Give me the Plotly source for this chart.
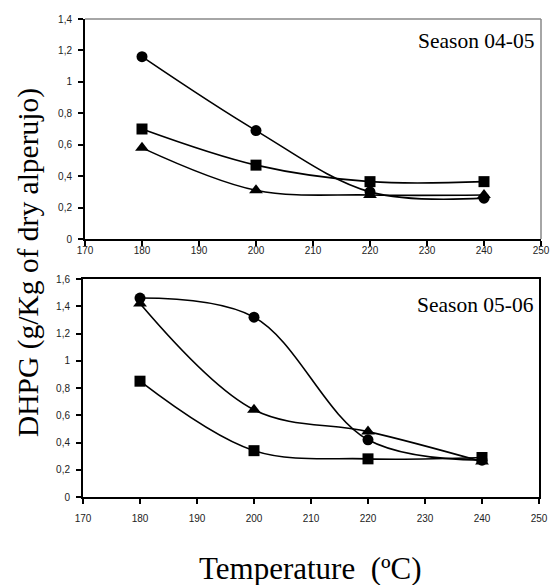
import plotly.graph_objects as go

temps = [180, 200, 220, 240]

# Season 04-05
s1_circle = [1.16, 0.69, 0.30, 0.26]
s1_square = [0.70, 0.47, 0.365, 0.365]
s1_triangle = [0.58, 0.31, 0.28, 0.28]

# Season 05-06
s2_circle = [1.46, 1.32, 0.42, 0.27]
s2_square = [0.85, 0.34, 0.28, 0.29]
s2_triangle = [1.42, 0.64, 0.48, 0.26]

x_ticks = [170, 180, 190, 200, 210, 220, 230, 240, 250]
y1_ticks = [0, 0.2, 0.4, 0.6, 0.8, 1.0, 1.2, 1.4]
y2_ticks = [0, 0.2, 0.4, 0.6, 0.8, 1.0, 1.2, 1.4, 1.6]

W, H = 550, 585

def px_x(p):
    return p / W

def px_y(p):
    return 1 - p / H

fig = go.Figure()

def add_series(x, y, symbol, xa, ya, size):
    fig.add_trace(go.Scatter(
        x=x, y=y, mode="lines+markers", xaxis=xa, yaxis=ya,
        line=dict(color="black", width=1.6, shape="spline", smoothing=1.0),
        marker=dict(symbol=symbol, size=size, color="black"),
        showlegend=False, hoverinfo="skip", cliponaxis=False))

add_series(temps, s1_circle, "circle", "x", "y", 11)
add_series(temps, s1_square, "square", "x", "y", 11)
add_series(temps, s1_triangle, "triangle-up", "x", "y", 12)

add_series(temps, s2_circle, "circle", "x2", "y2", 11)
add_series(temps, s2_square, "square", "x2", "y2", 11)
add_series(temps, s2_triangle, "triangle-up", "x2", "y2", 12)

tickfont = dict(family="Liberation Sans, Arial, sans-serif", size=10, color="#222222")

common_x = dict(range=[170, 250], tickvals=x_ticks, ticks="outside", ticklen=5,
                tickwidth=1.5, tickcolor="black", showline=True, linecolor="black",
                linewidth=2, showgrid=False, zeroline=False, tickfont=tickfont,
                fixedrange=True, automargin=False)
common_y = dict(ticks="outside", ticklen=5, tickwidth=1.5, tickcolor="black",
                showline=True, linecolor="black", linewidth=2, showgrid=False,
                zeroline=False, tickfont=tickfont, fixedrange=True,
                tickformat=".1~f", automargin=False)

fig.update_layout(
    width=W, height=H,
    margin=dict(l=0, r=0, t=0, b=0, autoexpand=False),
    paper_bgcolor="white", plot_bgcolor="white",
    separators=",.",
    xaxis=dict(common_x, domain=[px_x(85), px_x(541)], anchor="y",
               ticklabelstandoff=-4),
    yaxis=dict(common_y, domain=[px_y(239), px_y(19)], range=[0, 1.4],
               tickvals=y1_ticks, anchor="x", ticklabelstandoff=4),
    xaxis2=dict(common_x, domain=[px_x(83), px_x(539)], anchor="y2",
                ticklabelstandoff=6, mirror=True),
    yaxis2=dict(common_y, domain=[px_y(497), px_y(279)], range=[0, 1.6],
                tickvals=y2_ticks, anchor="x2", ticklabelstandoff=4, mirror=True),
)

# gray top/right border of the upper plot area
fig.add_shape(type="line", xref="paper", yref="paper",
              x0=px_x(85), x1=px_x(541), y0=px_y(19), y1=px_y(19),
              line=dict(color="#888888", width=1.5))
fig.add_shape(type="line", xref="paper", yref="paper",
              x0=px_x(541), x1=px_x(541), y0=px_y(19), y1=px_y(239),
              line=dict(color="#888888", width=1.5))

serif = "Liberation Serif, Times New Roman, serif"

fig.add_annotation(text="Season 04-05", xref="paper", yref="paper",
                   x=px_x(536), y=px_y(41), xanchor="right", yanchor="middle",
                   showarrow=False, font=dict(family=serif, size=21.5, color="black"))
fig.add_annotation(text="Season 05-06", xref="paper", yref="paper",
                   x=px_x(536), y=px_y(305), xanchor="right", yanchor="middle",
                   showarrow=False, font=dict(family=serif, size=21.5, color="black"))

fig.add_annotation(text="DHPG (g/Kg of dry alperujo)", xref="paper", yref="paper",
                   x=px_x(28), y=px_y(263), xanchor="center", yanchor="middle",
                   textangle=-90, showarrow=False,
                   font=dict(family=serif, size=29.5, color="black"))
fig.add_annotation(text="Temperature  (ºC)", xref="paper", yref="paper",
                   x=px_x(310), y=px_y(568), xanchor="center", yanchor="middle",
                   showarrow=False, font=dict(family=serif, size=31, color="black"))

fig.write_html("out.html", config={"displayModeBar": False},
               post_script="document.body.style.margin='0px';document.body.style.overflow='hidden';")
